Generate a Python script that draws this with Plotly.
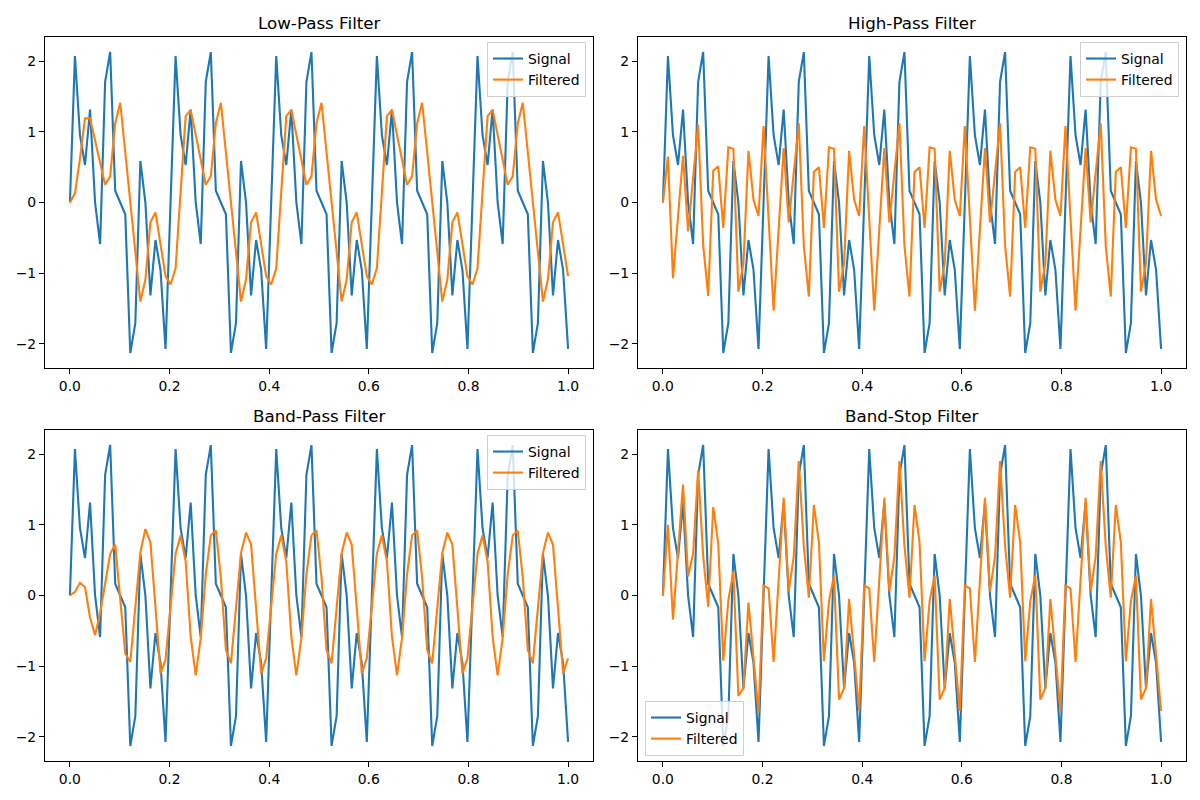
import plotly.graph_objects as go

# ---------------- data ----------------
t_start = 0.0
t_step = 1 / 99          # 100 samples spanning 0 .. 1

signal = [
    0.0, 2.069, 0.951, 0.530, 1.314, 0.0, -0.588, 1.706, 2.127, 0.167,
    0.0, -0.167, -2.127, -1.706, 0.588, 0.0, -1.314, -0.530, -0.951, -2.069,
    0.0, 2.069, 0.951, 0.530, 1.314, 0.0, -0.588, 1.706, 2.127, 0.167,
    0.0, -0.167, -2.127, -1.706, 0.588, 0.0, -1.314, -0.530, -0.951, -2.069,
    0.0, 2.069, 0.951, 0.530, 1.314, 0.0, -0.588, 1.706, 2.127, 0.167,
    0.0, -0.167, -2.127, -1.706, 0.588, 0.0, -1.314, -0.530, -0.951, -2.069,
    0.0, 2.069, 0.951, 0.530, 1.314, 0.0, -0.588, 1.706, 2.127, 0.167,
    0.0, -0.167, -2.127, -1.706, 0.588, 0.0, -1.314, -0.530, -0.951, -2.069,
    0.0, 2.069, 0.951, 0.530, 1.314, 0.0, -0.588, 1.706, 2.127, 0.167,
    0.0, -0.167, -2.127, -1.706, 0.588, 0.0, -1.314, -0.530, -0.951, -2.069,
]

low_pass = [
    0.00, 0.13, 0.62, 1.19, 1.19, 0.88, 0.56, 0.25, 0.37, 1.12,
    1.41, 0.71, 0.01, -0.70, -1.40, -1.09, -0.28, -0.14, -0.62, -1.04,
    -1.16, -0.93, 0.15, 1.22, 1.31, 0.95, 0.60, 0.25, 0.37, 1.12,
    1.41, 0.71, 0.01, -0.70, -1.40, -1.09, -0.28, -0.14, -0.62, -1.04,
    -1.16, -0.93, 0.15, 1.22, 1.31, 0.95, 0.60, 0.25, 0.37, 1.12,
    1.41, 0.71, 0.01, -0.70, -1.40, -1.09, -0.28, -0.14, -0.62, -1.04,
    -1.16, -0.93, 0.15, 1.22, 1.31, 0.95, 0.60, 0.25, 0.37, 1.12,
    1.41, 0.71, 0.01, -0.70, -1.40, -1.09, -0.28, -0.14, -0.62, -1.04,
    -1.16, -0.93, 0.15, 1.22, 1.31, 0.95, 0.60, 0.25, 0.37, 1.12,
    1.41, 0.71, 0.01, -0.70, -1.40, -1.09, -0.28, -0.14, -0.62, -1.04,
]

high_pass = [
    0.00, 0.65, -1.07, -0.20, 0.66, -0.41, 0.30, 1.10, -0.60, -1.32,
    0.45, 0.51, -0.36, 0.78, 0.76, -1.26, -0.86, 0.73, 0.04, -0.19,
    1.08, -0.22, -1.53, -0.38, 0.77, -0.28, 0.40, 1.12, -0.61, -1.33,
    0.43, 0.50, -0.36, 0.78, 0.76, -1.26, -0.86, 0.73, 0.04, -0.19,
    1.08, -0.22, -1.53, -0.38, 0.77, -0.28, 0.40, 1.12, -0.61, -1.33,
    0.43, 0.50, -0.36, 0.78, 0.76, -1.26, -0.86, 0.73, 0.04, -0.19,
    1.08, -0.22, -1.53, -0.38, 0.77, -0.28, 0.40, 1.12, -0.61, -1.33,
    0.43, 0.50, -0.36, 0.78, 0.76, -1.26, -0.86, 0.73, 0.04, -0.19,
    1.08, -0.22, -1.53, -0.38, 0.77, -0.28, 0.40, 1.12, -0.61, -1.33,
    0.43, 0.50, -0.36, 0.78, 0.76, -1.26, -0.86, 0.73, 0.04, -0.19,
]

band_pass = [
    0.00, 0.05, 0.18, 0.12, -0.31, -0.56, -0.25, 0.20, 0.59, 0.72,
    0.00, -0.82, -0.94, -0.15, 0.61, 0.94, 0.75, -0.16, -1.10, -0.91,
    -0.16, 0.59, 0.85, 0.48, -0.58, -1.13, -0.60, 0.30, 0.85, 0.92,
    0.25, -0.77, -0.96, -0.20, 0.60, 0.89, 0.72, -0.18, -1.10, -0.89,
    -0.16, 0.59, 0.85, 0.48, -0.58, -1.13, -0.60, 0.30, 0.85, 0.92,
    0.25, -0.77, -0.96, -0.20, 0.60, 0.89, 0.72, -0.18, -1.10, -0.89,
    -0.16, 0.59, 0.85, 0.48, -0.58, -1.13, -0.60, 0.30, 0.85, 0.92,
    0.25, -0.77, -0.96, -0.20, 0.60, 0.89, 0.72, -0.18, -1.10, -0.89,
    -0.16, 0.59, 0.85, 0.48, -0.58, -1.13, -0.60, 0.30, 0.85, 0.92,
    0.25, -0.77, -0.96, -0.20, 0.60, 0.89, 0.72, -0.18, -1.10, -0.89,
]

band_stop = [
    0.00, 1.00, -0.34, 0.55, 1.57, 0.27, 0.59, 1.77, 0.56, -0.16,
    1.25, 0.73, -0.92, -0.07, 0.34, -1.42, -1.31, -0.10, -0.85, -1.66,
    0.14, 0.10, -0.94, 0.25, 1.38, 0.06, 0.55, 1.90, 0.70, -0.03,
    1.28, 0.75, -0.93, -0.08, 0.28, -1.47, -1.31, -0.05, -0.85, -1.63,
    0.14, 0.10, -0.94, 0.25, 1.38, 0.06, 0.55, 1.90, 0.70, -0.03,
    1.28, 0.75, -0.93, -0.08, 0.28, -1.47, -1.31, -0.05, -0.85, -1.63,
    0.14, 0.10, -0.94, 0.25, 1.38, 0.06, 0.55, 1.90, 0.70, -0.03,
    1.28, 0.75, -0.93, -0.08, 0.28, -1.47, -1.31, -0.05, -0.85, -1.63,
    0.14, 0.10, -0.94, 0.25, 1.38, 0.06, 0.55, 1.90, 0.70, -0.03,
    1.28, 0.75, -0.93, -0.08, 0.28, -1.47, -1.31, -0.05, -0.85, -1.63,
]

titles = ["Low-Pass Filter", "High-Pass Filter", "Band-Pass Filter", "Band-Stop Filter"]
filtered = [low_pass, high_pass, band_pass, band_stop]
series_names = ["Signal", "Filtered"]
x_ticks = [0.0, 0.2, 0.4, 0.6, 0.8, 1.0]
y_ticks = [-2, -1, 0, 1, 2]

# ---------------- layout ----------------
W, H = 1200, 800
BLUE = "#1f77b4"
ORANGE = "#ff7f0e"
FONT = "DejaVu Sans"

# axes boxes in pixels: (left, right, top, bottom)
boxes = [
    (45, 593, 37, 368),
    (638, 1186, 37, 368),
    (45, 593, 430, 761),
    (638, 1186, 430, 761),
]

fig = go.Figure()

legend_specs = [
    dict(x=586 / W, y=1 - 42 / H, xanchor="right", yanchor="top"),
    dict(x=1179 / W, y=1 - 42 / H, xanchor="right", yanchor="top"),
    dict(x=586 / W, y=1 - 435 / H, xanchor="right", yanchor="top"),
    dict(x=645 / W, y=1 - 756 / H, xanchor="left", yanchor="bottom"),
]

annotations = []
layout_axes = {}
for idx in range(4):
    n = idx + 1
    xa = "x" if n == 1 else f"x{n}"
    ya = "y" if n == 1 else f"y{n}"
    lg = "legend" if n == 1 else f"legend{n}"
    fig.add_trace(go.Scatter(
        x0=t_start, dx=t_step, y=signal, mode="lines", name=series_names[0],
        line=dict(color=BLUE, width=2.1), xaxis=xa, yaxis=ya, legend=lg,
    ))
    fig.add_trace(go.Scatter(
        x0=t_start, dx=t_step, y=filtered[idx], mode="lines", name=series_names[1],
        line=dict(color=ORANGE, width=2.1), xaxis=xa, yaxis=ya, legend=lg,
    ))
    l, r, tp, bt = boxes[idx]
    common = dict(
        showline=True, mirror=True, linecolor="black", linewidth=1.1,
        ticks="outside", ticklen=5, tickwidth=1.1, tickcolor="black",
        showgrid=False, zeroline=False,
        tickfont=dict(family=FONT, size=13.9, color="black"),
    )
    layout_axes["xaxis" if n == 1 else f"xaxis{n}"] = dict(
        domain=[l / W, r / W], anchor=ya, range=[-0.05, 1.05],
        tickvals=x_ticks, tickformat=".1f", **common,
    )
    layout_axes["yaxis" if n == 1 else f"yaxis{n}"] = dict(
        domain=[1 - bt / H, 1 - tp / H], anchor=xa, range=[-2.3397, 2.3397],
        tickvals=y_ticks, tickformat="d", **common,
    )
    annotations.append(dict(
        text=titles[idx], x=(l + r) / 2 / W, y=1 - tp / H, xref="paper", yref="paper",
        xanchor="center", yanchor="bottom", yshift=2, showarrow=False,
        font=dict(family=FONT, size=16.7, color="black"),
    ))
    layout_axes[lg] = dict(
        bgcolor="rgba(255,255,255,0.8)", bordercolor="#d0d0d0", borderwidth=1,
        font=dict(family=FONT, size=13.9, color="black"),
        tracegroupgap=0, itemwidth=30,
        **legend_specs[idx],
    )

fig.update_layout(
    width=W, height=H,
    margin=dict(l=0, r=0, t=0, b=0),
    paper_bgcolor="white", plot_bgcolor="white",
    showlegend=True,
    annotations=annotations,
    font=dict(family=FONT, size=13.9, color="black"),
    **layout_axes,
)

fig.write_html(
    "out.html",
    config={"displayModeBar": False},
    post_script="document.body.style.margin='0px';document.body.style.overflow='hidden';",
)
